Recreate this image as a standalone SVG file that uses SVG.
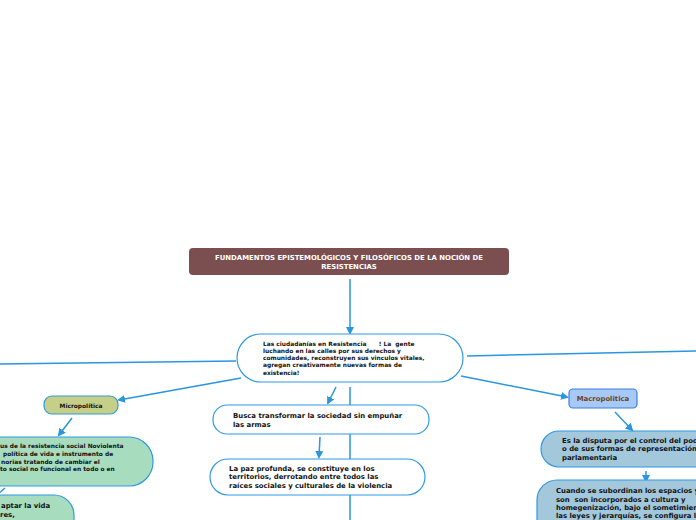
<svg xmlns="http://www.w3.org/2000/svg" width="696" height="520" viewBox="0 0 696 520">
<defs>
<marker id="ah" markerWidth="8" markerHeight="8" refX="6" refY="4" orient="auto" markerUnits="userSpaceOnUse">
<path d="M0,0 L8,4 L0,8 Z" fill="#2a96dd"/>
</marker>
<style>
.t{font-family:"DejaVu Sans",Verdana,sans-serif;font-weight:bold;font-size:6.9px;fill:#111;white-space:pre}
.s{font-size:5.9px}
.c{fill:none;stroke:#2a96dd;stroke-width:1.5}
.n{stroke:#2f9ae2;stroke-width:1.2}
</style>
</defs>
<rect width="696" height="520" fill="#fff"/>
<g id="connectors">
<line class="c" x1="350" y1="279" x2="350" y2="333" marker-end="url(#ah)"/>
<line class="c" x1="236" y1="361" x2="0" y2="364"/>
<line class="c" x1="467" y1="356" x2="696" y2="351"/>
<line class="c" x1="241" y1="378" x2="119" y2="400" marker-end="url(#ah)"/>
<line class="c" x1="336" y1="387" x2="328" y2="403" marker-end="url(#ah)"/>
<line class="c" x1="350" y1="387" x2="350" y2="520"/>
<line class="c" x1="461" y1="376" x2="567" y2="397" marker-end="url(#ah)"/>
<line class="c" x1="72" y1="418" x2="59" y2="435" marker-end="url(#ah)"/>
<line class="c" x1="5" y1="488" x2="-3" y2="495"/>
<line class="c" x1="320" y1="437" x2="319" y2="457" marker-end="url(#ah)"/>
<line class="c" x1="615" y1="412" x2="632" y2="430" marker-end="url(#ah)"/>
<line class="c" x1="646" y1="471" x2="646" y2="481" marker-end="url(#ah)"/>
</g>
<g id="title">
<rect x="189" y="248" width="320" height="27" rx="4" fill="#7b4f4f"/>
<text class="t" x="349" y="260" text-anchor="middle" style="fill:#fff">FUNDAMENTOS EPISTEMOLÓGICOS Y FILOSÓFICOS DE LA NOCIÓN DE</text>
<text class="t" x="349" y="269" text-anchor="middle" style="fill:#fff">RESISTENCIAS</text>
</g>
<g id="central">
<rect class="n" x="237" y="334" width="226" height="48" rx="24" fill="#fff"/>
<text class="t s" x="263" y="346">Las ciudadanías en Resistencia      ! La  gente</text>
<text class="t s" x="263" y="353">luchando en las calles por sus derechos y</text>
<text class="t s" x="263" y="360">comunidades, reconstruyen sus vinculos vitales,</text>
<text class="t s" x="263" y="367">agregan creativamente nuevas formas de</text>
<text class="t s" x="263" y="375">existencia!</text>
</g>
<g id="micropolitica">
<rect class="n" x="44" y="396" width="74" height="18" rx="8" fill="#c5cf88"/>
<text class="t s" x="81" y="407.5" text-anchor="middle">Micropolítica</text>
</g>
<g id="noviolenta">
<rect class="n" x="-60" y="437" width="213" height="49" rx="24" fill="#a8dcbf"/>
<text class="t s" x="0" y="448">us de la resistencia social Noviolenta</text>
<text class="t s" x="3" y="456">política de vida e instrumento de</text>
<text class="t s" x="1" y="464">norias tratando de cambiar el</text>
<text class="t s" x="0" y="471">to social no funcional en todo o en</text>
</g>
<g id="captar">
<rect class="n" x="-60" y="495" width="134" height="50" rx="20" fill="#a8dcbf"/>
<text class="t" x="1" y="508">aptar la vida</text>
<text class="t" x="0" y="517">res,</text>
</g>
<g id="busca">
<rect class="n" x="213" y="405" width="216" height="29" rx="14" fill="#fff"/>
<text class="t" x="233" y="418">Busca transformar la sociedad sin empuñar</text>
<text class="t" x="233" y="427">las armas</text>
</g>
<g id="paz">
<rect class="n" x="210" y="459" width="215" height="36" rx="18" fill="#fff"/>
<text class="t" x="229" y="471">La paz profunda, se constituye en los</text>
<text class="t" x="229" y="479">territorios, derrotando entre todos las</text>
<text class="t" x="229" y="488">raíces sociales y culturales de la violencia</text>
</g>
<g id="macropolitica">
<rect x="569" y="389" width="68" height="19" rx="4" fill="#a8c9f6" stroke="#3a7fe0" stroke-width="1.2"/>
<text class="t" x="603" y="401" text-anchor="middle" style="fill:#6a4424">Macropolitica</text>
</g>
<g id="disputa">
<rect class="n" x="541" y="431" width="220" height="36" rx="18" fill="#a3c7db"/>
<text class="t" x="562" y="443">Es la disputa por el control del poder</text>
<text class="t" x="562" y="451">o de sus formas de representación</text>
<text class="t" x="562" y="460">parlamentaria</text>
</g>
<g id="cuando">
<rect class="n" x="537" y="480" width="220" height="70" rx="20" fill="#a3c7db"/>
<text class="t" x="556" y="493">Cuando se subordinan los espacios y</text>
<text class="t" x="556" y="502">son  son incorporados a cultura y</text>
<text class="t" x="556" y="510">homegenización, bajo el sometimiento a</text>
<text class="t" x="556" y="518">las leyes y jerarquías, se configura la</text>
</g>
</svg>
